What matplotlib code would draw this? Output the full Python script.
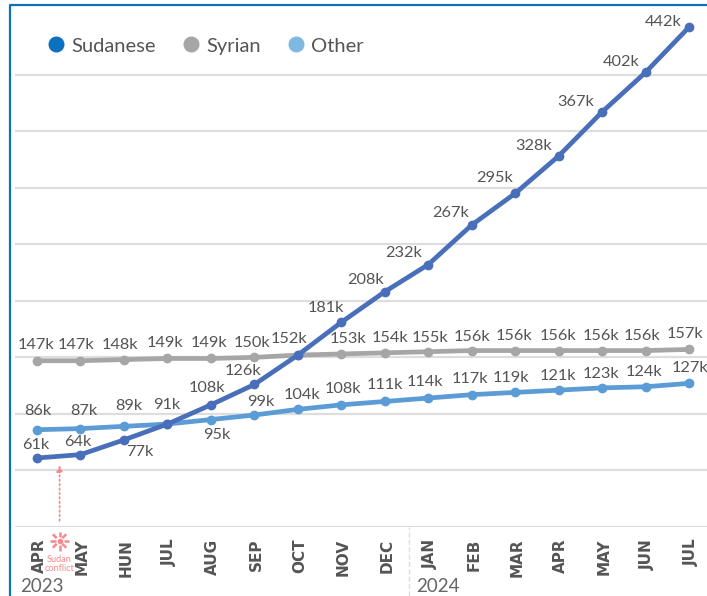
import matplotlib
matplotlib.use('Agg')
import matplotlib.pyplot as plt
from matplotlib.lines import Line2D
from matplotlib.transforms import ScaledTranslation
import numpy as np

months = ['APR','MAY','HUN','JUL','AUG','SEP','OCT','NOV','DEC','JAN','FEB','MAR','APR','MAY','JUN','JUL']
sudanese = [61,64,77,91,108,126,152,181,208,232,267,295,328,367,402,442]
syrian = [147,147,148,149,149,150,152,153,154,155,156,156,156,156,156,157]
other = [86,87,89,91,95,99,104,108,111,114,117,119,121,123,124,127]

# label offsets from each point, in pixels (dx, dy up). None = label shared with another line
sudanese_off = [(-1,13),(-3,13),(16,-12),None,(-4,17),(-11,13),None,(-15,14),(-19,12),(-25,12),(-21,12),(-21,15),(-25,10),(-26,10),(-24,10),(-26,5)]
syrian_off = [(-1,16),(-4,16),(-4,15),(-2,15),(-2,15),(-2,14),(-9,16),(7,15),(5,15),(2,14),(0,14),(-1,15),(-1,15),(-1,15),(-4,15),(-4,15)]
other_off = [(1,19),(3,18),(5,20),(-1,19),(6,-15),(6,13),(4,14),(2,16),(0,16),(-3,16),(-2,16),(-4,14),(-1,14),(-1,14),(-2,15),(1,15)]

W, H = 707, 596
col_sud, col_syr, col_oth = '#4a6fba', '#a6a6a6', '#5b9bd6'
grey = '#555555'
pink = '#f7888f'

fig = plt.figure(figsize=(W/100, H/100), dpi=100)
ax = fig.add_axes([15/W, 1-527/H, (W-15)/W, (527-5)/H])
x = np.arange(len(months))
ax.set_xlim((15-37)/43.47, (W-37)/43.47)
ax.set_ylim(0, 522/1.131)

ax.set_yticks(range(0, 401, 50))
ax.set_yticklabels([])
ax.set_xticks(x)
ax.set_xticklabels(months, rotation=90, va='top', ha='center', family='DejaVu Sans',
                   fontweight='bold', fontsize=11, color=grey)
ax.tick_params(length=0, pad=8.5)
# nudge the rotated month labels right a little
shift = ScaledTranslation(2/100, 0, fig.dpi_scale_trans)
for lab in ax.get_xticklabels():
    lab.set_transform(lab.get_transform() + shift)
ax.grid(axis='y', color='#dddddd', lw=1.6)
ax.set_axisbelow(True)
for s in ax.spines.values():
    s.set_visible(False)

for vals, off, c in [(syrian, syrian_off, col_syr), (other, other_off, col_oth), (sudanese, sudanese_off, col_sud)]:
    ax.plot(x, vals, color=c, lw=3.4, marker='o', ms=6, clip_on=False)
    for i, v in enumerate(vals):
        if off[i] is None:
            continue
        ax.annotate(str(v)+'k', (i, v), xytext=(off[i][0]*0.72, off[i][1]*0.72), textcoords='offset points',
                    ha='center', va='center', family='Lato', fontsize=11.8, color=grey)

# blue frame on left and top only
frame = '#0a72bd'
fig.add_artist(Line2D([10/W, 10/W, 1], [0, 1-5/H, 1-5/H], color=frame, lw=1.6))

handles = [Line2D([], [], ls='', marker='o', ms=10.5, color=c) for c in ['#0b70bd', col_syr, '#7fb8e0']]
ax.legend(handles, ['Sudanese','Syrian','Other'], ncol=3, frameon=False, loc='center left',
          bbox_to_anchor=(31/692, 1-41/522), prop={'family':'Lato','size':14.5}, labelcolor=grey,
          handlelength=1, handletextpad=0.25, columnspacing=1.25, borderpad=0, borderaxespad=0)

# year labels and divider
fig.text(20/W, 1-592/H, '2023', family='Lato', fontsize=13.5, color='#666666', va='baseline')
fig.text(416/W, 1-592/H, '2024', family='Lato', fontsize=13.5, color='#666666', va='baseline')
fig.add_artist(Line2D([409/W, 409/W], [0, 1-527/H], color='#dddddd', lw=1, ls='--'))

# Sudan conflict marker
ax.annotate('', xy=(0.52, 57), xytext=(0.52, 3),
            arrowprops=dict(arrowstyle='-|>', color=pink, ls=':', lw=1.2, mutation_scale=9))
cx, cy = 59.5, 541
for a in np.arange(0, 360, 45):
    ca, sa = np.cos(np.radians(a)), np.sin(np.radians(a))
    fig.add_artist(Line2D([(cx+4*ca)/W, (cx+9.5*ca)/W], [1-(cy+4*sa)/H, 1-(cy+9.5*sa)/H], color=pink, lw=1.8, solid_capstyle='butt'))
fig.add_artist(Line2D([cx/W], [1-cy/H], marker='o', ms=3, color=pink))
fig.text(cx/W, 1-564/H, 'Sudan\nconflict', family='Lato', fontsize=6.6, color=pink, ha='center', va='center', linespacing=0.9)

fig.savefig('out.png', dpi=100)
